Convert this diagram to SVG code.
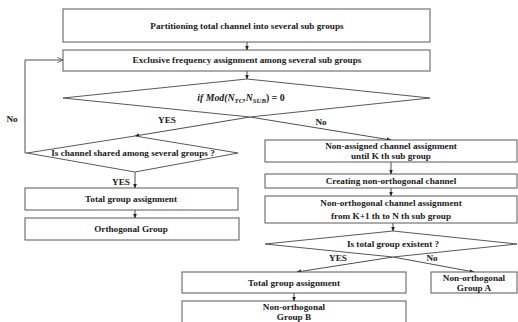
<svg xmlns="http://www.w3.org/2000/svg" width="518" height="322" viewBox="0 0 518 322">
<style>
.b{fill:#fff;stroke:#595959;stroke-width:1}
.c{fill:none;stroke:#3a3a3a;stroke-width:0.9}
.t{font-family:"Liberation Serif","Times New Roman",serif;font-weight:bold;font-size:9.2px;fill:#1a1a1a;text-anchor:middle}
.m{font-family:"Liberation Serif","Times New Roman",serif;font-weight:bold;font-style:italic;font-size:9.8px;fill:#1a1a1a;text-anchor:middle}
</style>
<defs>
<marker id="a" viewBox="0 0 10 10" refX="9" refY="5" markerWidth="5" markerHeight="5" orient="auto-start-reverse" markerUnits="userSpaceOnUse"><path d="M0,1L10,5L0,9z" fill="#222"/></marker>
<marker id="o" viewBox="0 0 10 10" refX="9" refY="5" markerWidth="7" markerHeight="7" orient="auto" markerUnits="userSpaceOnUse"><path d="M0,1L9,5L0,9" fill="none" stroke="#444" stroke-width="1"/></marker>
</defs>
<rect width="518" height="322" fill="#fff"/>
<g id="connectors">
<path class="c" d="M247,42V50" marker-end="url(#a)"/>
<path class="c" d="M247,71V79" marker-end="url(#a)"/>
<path class="c" d="M250,117L135,136" marker-end="url(#a)"/>
<path class="c" d="M250,117L391,140" marker-end="url(#a)"/>
<path class="c" d="M27,153H25V60H63" marker-end="url(#o)"/>
<path class="c" d="M135,172V188" marker-end="url(#a)"/>
<path class="c" d="M135,210V218" marker-end="url(#a)"/>
<path class="c" d="M391,162V174" marker-end="url(#a)"/>
<path class="c" d="M391,188V196" marker-end="url(#a)"/>
<path class="c" d="M393,223V231" marker-end="url(#a)"/>
<path class="c" d="M393,257L297,272" marker-end="url(#a)"/>
<path class="c" d="M393,257L474,272" marker-end="url(#a)"/>
<path class="c" d="M294,293V301" marker-end="url(#a)"/>
<text class="t" x="12" y="122">No</text>
<text class="t" x="167" y="123">YES</text>
<text class="t" x="321" y="125">No</text>
<text class="t" x="121" y="185">YES</text>
<text class="t" x="338" y="261">YES</text>
<text class="t" x="432" y="261">No</text>
</g>
<g id="n1"><rect class="b" x="63" y="9" width="367" height="33"/><text class="t" x="247" y="29">Partitioning  total channel into  several sub  groups</text></g>
<g id="n2"><rect class="b" x="63" y="50" width="367" height="21"/><text class="t" x="247" y="63">Exclusive frequency assignment among  several sub  groups</text></g>
<g id="d1"><polygon class="b" points="247,79 430,98 250,117 63,98"/><text class="m" x="241" y="101">if Mod(N<tspan font-size="6.8" dy="2">TC</tspan><tspan dy="-2">,N</tspan><tspan font-size="6.8" dy="2">SUB</tspan><tspan dy="-2" font-style="normal">) = 0</tspan></text></g>
<g id="d2"><polygon class="b" points="135,136 238,153 135,172 27,153"/><text class="t" x="133" y="156">Is channel  shared among  several groups  ?</text></g>
<g id="n3"><rect class="b" x="25" y="188" width="213" height="22"/><text class="t" x="131" y="202">Total group  assignment</text></g>
<g id="n4"><rect class="b" x="25" y="218" width="214" height="22"/><text class="t" x="131" y="232">Orthogonal Group</text></g>
<g id="n5"><rect class="b" x="265" y="140" width="252" height="22"/><text class="t" x="391" y="149">Non-assigned channel  assignment</text><text class="t" x="391" y="159">until  K th  sub group</text></g>
<g id="n6"><rect class="b" x="265" y="174" width="252" height="14"/><text class="t" x="391" y="184">Creating non-orthogonal  channel</text></g>
<g id="n7"><rect class="b" x="265" y="196" width="252" height="27"/><text class="t" x="391" y="206">Non-orthogonal  channel  assignment</text><text class="t" x="391" y="219">from  K+1 th to N th sub group</text></g>
<g id="d3"><polygon class="b" points="393,231 517,244 393,257 265,244"/><text class="t" x="393" y="247">Is total group  existent ?</text></g>
<g id="n8"><rect class="b" x="182" y="272" width="224" height="21"/><text class="t" x="294" y="286">Total group  assignment</text></g>
<g id="n9"><rect class="b" x="182" y="301" width="224" height="30"/><text class="t" x="294" y="310">Non-orthogonal</text><text class="t" x="294" y="320">Group  B</text></g>
<g id="n10"><rect class="b" x="431" y="272" width="86" height="21"/><text class="t" x="474" y="281">Non-orthogonal</text><text class="t" x="474" y="291">Group  A</text></g>
</svg>
